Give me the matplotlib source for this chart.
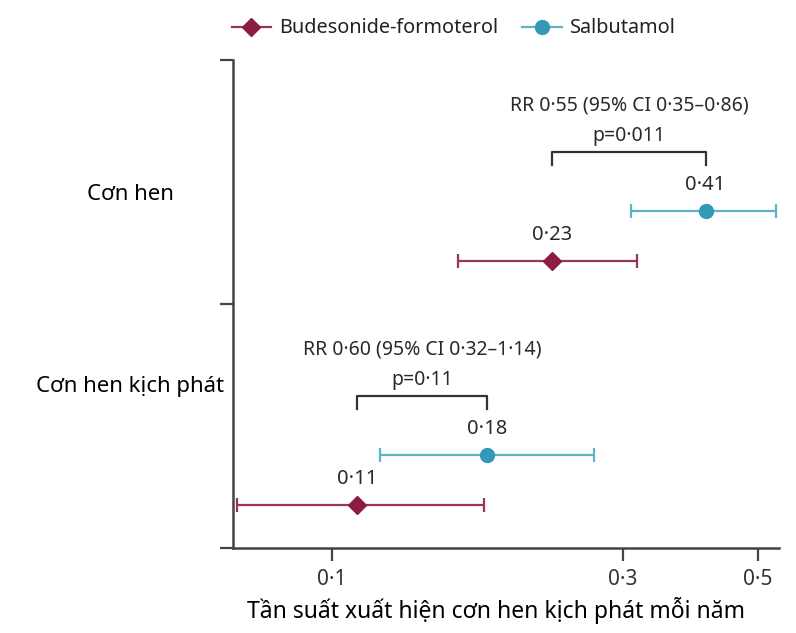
import matplotlib
matplotlib.use("Agg")
import matplotlib.pyplot as plt
from matplotlib.ticker import FixedLocator, NullLocator

plt.rcParams['font.family'] = ['Noto Sans', 'DejaVu Sans']

# data
groups = ['Cơn hen', 'Cơn hen kịch phát']
series = ['Budesonide-formoterol', 'Salbutamol']
bud_rate = [0.23, 0.11]
bud_lo = [0.161, 0.070]
bud_hi = [0.316, 0.178]
sal_rate = [0.41, 0.18]
sal_lo = [0.310, 0.120]
sal_hi = [0.535, 0.269]
bud_labels = ['0·23', '0·11']
sal_labels = ['0·41', '0·18']
rr_text = ['RR 0·55 (95% CI 0·35–0·86)', 'RR 0·60 (95% CI 0·32–1·14)']
p_text = ['p=0·011', 'p=0·11']
xticks = [0.1, 0.3, 0.5]
xtick_labels = ['0·1', '0·3', '0·5']
xlabel = 'Tần suất xuất hiện cơn hen kịch phát mỗi năm'

bud_color = '#8c1d40'
bud_line = '#9a3555'
sal_color = '#3399b8'
sal_line = '#5fb3c4'
ink = '#2a2a2a'

fig = plt.figure(figsize=(7.96, 6.33), dpi=100)
ax = fig.add_axes([0.2927, 0.1343, 0.6859, 0.7709])

# group i sits in band [1-i, 2-i] (top band first)
label_off = [0.45, 0.66]
for i in range(len(groups)):
    b = 1 - i
    yb = b + 0.175
    ys = b + 0.38
    ax.errorbar([bud_rate[i]], [yb],
                xerr=[[bud_rate[i] - bud_lo[i]], [bud_hi[i] - bud_rate[i]]],
                fmt='D', color=bud_color, ecolor=bud_line, ms=9.5, elinewidth=1.6,
                capsize=5, capthick=1.6, zorder=3)
    ax.errorbar([sal_rate[i]], [ys],
                xerr=[[sal_rate[i] - sal_lo[i]], [sal_hi[i] - sal_rate[i]]],
                fmt='o', color=sal_color, ecolor=sal_line, ms=10, elinewidth=1.6,
                capsize=5, capthick=1.6, zorder=3)
    ax.text(bud_rate[i], yb + 0.065, bud_labels[i], ha='center', va='bottom',
            fontsize=14.5, color=ink)
    ax.text(sal_rate[i], ys + 0.065, sal_labels[i], ha='center', va='bottom',
            fontsize=14.5, color=ink)
    # bracket between the two estimates
    yt = b + 0.623
    ax.plot([bud_rate[i], bud_rate[i], sal_rate[i], sal_rate[i]],
            [yt - 0.055, yt, yt, yt - 0.055], color='#333333', lw=1.6)
    xm = (bud_rate[i] * sal_rate[i]) ** 0.5
    ax.text(xm, b + 0.69, p_text[i], ha='center', va='center', fontsize=14, color=ink)
    ax.text(xm, b + 0.815, rr_text[i], ha='center', va='center', fontsize=14, color=ink)
    # category label, placed in figure coords left of the axis
    fig.text(130 / 796, 0.1343 + 0.7709 * (b + label_off[i]) / 2, groups[i], fontsize=16,
             ha='center', va='center', color='black')

ax.set_xscale('log')
ax.set_xlim(0.0689, 0.541)
ax.set_ylim(0, 2)
ax.xaxis.set_major_locator(FixedLocator(xticks))
ax.xaxis.set_minor_locator(NullLocator())
ax.set_xticklabels(xtick_labels)
ax.set_yticks([0, 1, 2])
ax.set_yticklabels([])
ax.tick_params(axis='x', length=9, width=1.6, color='#444444', labelsize=15,
               labelcolor='#333333', pad=6)
ax.tick_params(axis='y', length=9.5, width=1.6, color='#444444')
for s in ['top', 'right']:
    ax.spines[s].set_visible(False)
for s in ['left', 'bottom']:
    ax.spines[s].set_color('#444444')
    ax.spines[s].set_linewidth(1.8)
ax.set_xlabel(xlabel, fontsize=16.5, labelpad=6, color='black')
ax.xaxis.set_label_coords(0.482, -0.1)

handles = [
    plt.Line2D([], [], color=bud_line, marker='D', mfc=bud_color, mec=bud_color, ms=9.5, lw=1.6),
    plt.Line2D([], [], color=sal_line, marker='o', mfc=sal_color, mec=sal_color, ms=10, lw=1.6),
]
fig.legend(handles, series, loc='center', bbox_to_anchor=(0.57, 0.955), ncol=2,
           frameon=False, fontsize=14.3, handlelength=2.0, handletextpad=0.4, columnspacing=1.2,
           labelcolor='#222222')

fig.savefig('out.png', dpi=100)
